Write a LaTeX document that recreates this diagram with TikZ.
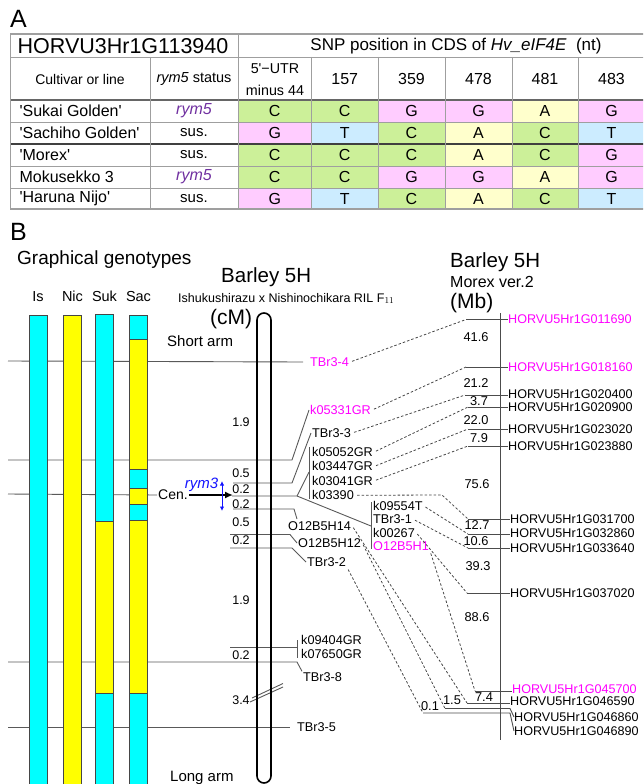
\documentclass[tikz,border=0pt]{standalone}
\usepackage{fontspec}
\setmainfont{Liberation Sans}
\usepackage{xcolor}
\usepackage{tikz}
\usetikzlibrary{arrows.meta,positioning,calc}

\definecolor{ntC}{RGB}{204,240,153}
\definecolor{ntG}{RGB}{255,204,255}
\definecolor{ntA}{RGB}{255,255,204}
\definecolor{ntT}{RGB}{204,236,255}
\definecolor{gtcyan}{RGB}{0,255,255}
\definecolor{gtyellow}{RGB}{255,255,0}
\definecolor{mag}{RGB}{255,0,255}
\definecolor{rympurple}{RGB}{112,48,160}
\definecolor{rymblue}{RGB}{20,20,255}

\newcommand{\fsz}[1]{\fontsize{#1}{#1}\selectfont}
\newcommand{\squo}{\textquotesingle}

\begin{document}
\begin{tikzpicture}[x=1pt, y=-1pt,
        cell/.style={minimum width=67pt, minimum height=22pt, inner sep=0pt, font=\fsz{16}},
        cC/.style={cell, fill=ntC}, cG/.style={cell, fill=ntG},
        cA/.style={cell, fill=ntA}, cT/.style={cell, fill=ntT},
        wcol/.style={minimum width=73.5pt},
        tline/.style={gray!75, line width=0.8pt},
        gbar/.style={draw=gray!55!black, line width=0.7pt},
        lnk/.style={gray!70!black, line width=0.9pt},
        mtick/.style={black!70, line width=0.9pt},
        dsh/.style={gray!55!black, line width=0.8pt, dash pattern=on 2.5pt off 2pt, shorten <=2pt},
        mk/.style={anchor=west, inner sep=1pt, font=\fsz{12.7}},
        gene/.style={anchor=west, inner sep=0pt, font=\fsz{12.6}},
        cmlbl/.style={inner sep=0pt, font=\fsz{12.5}},
        mblbl/.style={inner sep=0pt, font=\fsz{12.8}},
        ttl/.style={anchor=base west, inner sep=0pt}
    ]
        \useasboundingbox (0,0) rectangle (643,784);
        \clip (0,0) rectangle (643,784);

        %--- Panel A: SNP table ---
        \node[ttl, font=\fsz{25}] (labA) at (10,28) {A};

        \node[cC, wcol] (c11) at (274.75,111) {C};
        \node[cC] (c12) at (344.75,111) {C};
        \node[cG] (c13) at (411.5,111) {G};
        \node[cG] (c14) at (478.5,111) {G};
        \node[cA] (c15) at (545,111) {A};
        \node[cG] (c16) at (611.5,111) {G};

        \node[cG, wcol] (c21) at (274.75,133) {G};
        \node[cT] (c22) at (344.75,133) {T};
        \node[cC] (c23) at (411.5,133) {C};
        \node[cA] (c24) at (478.5,133) {A};
        \node[cC] (c25) at (545,133) {C};
        \node[cT] (c26) at (611.5,133) {T};

        \node[cC, wcol] (c31) at (274.75,155) {C};
        \node[cC] (c32) at (344.75,155) {C};
        \node[cC] (c33) at (411.5,155) {C};
        \node[cA] (c34) at (478.5,155) {A};
        \node[cC] (c35) at (545,155) {C};
        \node[cG] (c36) at (611.5,155) {G};

        \node[cC, wcol] (c41) at (274.75,177) {C};
        \node[cC] (c42) at (344.75,177) {C};
        \node[cG] (c43) at (411.5,177) {G};
        \node[cG] (c44) at (478.5,177) {G};
        \node[cA] (c45) at (545,177) {A};
        \node[cG] (c46) at (611.5,177) {G};

        \node[cG, wcol, minimum height=21pt] (c51) at (274.75,198.5) {G};
        \node[cT, minimum height=21pt] (c52) at (344.75,198.5) {T};
        \node[cC, minimum height=21pt] (c53) at (411.5,198.5) {C};
        \node[cA, minimum height=21pt] (c54) at (478.5,198.5) {A};
        \node[cC, minimum height=21pt] (c55) at (545,198.5) {C};
        \node[cT, minimum height=21pt] (c56) at (611.5,198.5) {T};

        % rules
        \draw[tline, line width=1.5pt] (10,34) -- (645,34);
        \draw[tline] (10,57) -- (645,57);
        \draw[tline, black!60, line width=1.2pt] (10,100) -- (645,100);
        \draw[tline] (10,122) -- (645,122);
        \draw[tline, black!75, line width=1.1pt] (10,144) -- (645,144);
        \draw[tline] (10,166) -- (645,166);
        \draw[tline] (10,188) -- (645,188);
        \draw[tline, line width=1.1pt] (10,209) -- (645,209);
        \draw[tline] (10,34) -- (10,209);
        \draw[tline] (238,34) -- (238,209);
        \draw[tline] (150,57) -- (150,209);
        \draw[tline] (311.5,57) -- (311.5,209);
        \draw[tline] (378,57) -- (378,209);
        \draw[tline] (445,57) -- (445,209);
        \draw[tline] (512,57) -- (512,209);
        \draw[tline] (578,57) -- (578,209);

        % headers
        \node[font=\fsz{21.5}] (hgene) at (123,46) {HORVU3Hr1G113940};
        \node[font=\fsz{17}] (hsnp) at (456,46) {SNP position in CDS of \textit{Hv\_eIF4E}\ \ (nt)};
        \node[font=\fsz{14}] (hcul) at (80,79) {Cultivar or line};
        \node[font=\fsz{14.5}] (hstat) at (194,79) {\textit{rym5}\ status};
        \node[font=\fontsize{14.3}{22}\selectfont, align=center] (hutr) at (275,80) {5\squo−UTR\\minus 44};
        \node[font=\fsz{16}] (h157) at (344.75,79) {157};
        \node[font=\fsz{16}] (h359) at (411.5,79) {359};
        \node[font=\fsz{16}] (h478) at (478.5,79) {478};
        \node[font=\fsz{16}] (h481) at (545,79) {481};
        \node[font=\fsz{16}] (h483) at (611.5,79) {483};

        % lines
        \node[font=\fsz{16}, anchor=west] (n1) at (16,111) {\squo Sukai Golden\squo};
        \node[font=\fsz{16}, anchor=west] (n2) at (16,133) {\squo Sachiho Golden\squo};
        \node[font=\fsz{16}, anchor=west] (n3) at (16,155) {\squo Morex\squo};
        \node[font=\fsz{16}, anchor=west] (n4) at (16,177) {Mokusekko 3};
        \node[font=\fsz{16}, anchor=west] (n5) at (16,198.5) {\squo Haruna Nijo\squo};
        \node[font=\fsz{16}, text=rympurple] (s1) at (194,111) {\textit{rym5}};
        \node[font=\fsz{15}] (s2) at (194,133) {sus.};
        \node[font=\fsz{15}] (s3) at (194,155) {sus.};
        \node[font=\fsz{16}, text=rympurple] (s4) at (194,177) {\textit{rym5}};
        \node[font=\fsz{15}] (s5) at (194,198.5) {sus.};

        %--- Panel B: titles ---
        \node[ttl, font=\fsz{25}] (labB) at (10,240) {B};
        \node[ttl, font=\fsz{19}] (gg) at (17,264) {Graphical genotypes};
        \node[font=\fsz{14.5}, anchor=base, inner sep=0pt] (is) at (38,301) {Is};
        \node[font=\fsz{14.5}, anchor=base, inner sep=0pt] (nic) at (72.5,301) {Nic};
        \node[font=\fsz{14.5}, anchor=base, inner sep=0pt] (suk) at (104.5,301) {Suk};
        \node[font=\fsz{14.5}, anchor=base, inner sep=0pt] (sac) at (138.5,301) {Sac};
        \node[ttl, font=\fsz{20.5}] (b5hl) at (221,282) {Barley 5H};
        \node[ttl, font=\fsz{12.5}] (cross) at (178,302) {Ishukushirazu x Nishinochikara RIL F$_{11}$};
        \node[ttl, font=\fsz{21}] (ucm) at (210,324) {(cM)};
        \node[ttl, font=\fsz{15}] (sarm) at (167,346) {Short arm};
        \node[ttl, font=\fsz{15}] (larm) at (170,781) {Long arm};
        \node[ttl, font=\fsz{20.5}] (b5hr) at (450,267) {Barley 5H};
        \node[ttl, font=\fsz{16}] (morex) at (450,287) {Morex ver.2};
        \node[ttl, font=\fsz{21}] (umb) at (450,308) {(Mb)};

        %--- Linkage map: marker labels ---
        \node[mk, text=mag] (tbr34) at (309,362) {TBr3-4};
        \node[mk, text=mag] (k05331) at (309,410) {k05331GR};
        \node[mk] (tbr33) at (311,433) {TBr3-3};
        \node[mk] (k05052) at (311,452) {k05052GR};
        \node[mk, below=2.7pt of k05052.south west, anchor=north west] (k03447) {k03447GR};
        \node[mk, below=2.7pt of k03447.south west, anchor=north west] (k03041) {k03041GR};
        \node[mk, below=2.7pt of k03041.south west, anchor=north west] (k03390) {k03390};
        \node[mk] (k09554) at (372,506) {k09554T};
        \node[mk, below=1.7pt of k09554.south west, anchor=north west] (tbr31) {TBr3-1};
        \node[mk, below=1.7pt of tbr31.south west, anchor=north west] (k00267) {k00267};
        \node[mk, text=mag, below=1.7pt of k00267.south west, anchor=north west] (o12b5h1) {O12B5H1};
        \node[mk] (o12b5h14) at (287,526) {O12B5H14};
        \node[mk] (o12b5h12) at (297,543) {O12B5H12};
        \node[mk] (tbr32) at (306,562) {TBr3-2};
        \node[mk] (k09404) at (300,640) {k09404GR};
        \node[mk] (k07650) at (300,654) {k07650GR};
        \node[mk] (tbr38) at (302,677) {TBr3-8};
        \node[mk] (tbr35) at (296,727) {TBr3-5};
        \node[font=\fsz{14}, anchor=west, inner sep=1pt] (cen) at (157,495) {Cen.};

        %--- Linkage map: lines behind the genotype bars ---
        \draw[lnk] (8,361) -- ([xshift=-6pt]tbr34.west);
        \draw[lnk] (8,460) -- (292,460) -- (k05331.west);
        \draw[lnk] (233,483) -- (292,483) -- (tbr33.west);
        \draw[lnk] (8,494) -- (cen.west);
        \draw[lnk] (232,496) -- (297,496) coordinate (fork) -- (309,472);
        \draw[lnk] (fork) -- (371,526);
        \draw[lnk] (309,447) -- (309,499);
        \draw[lnk] (371,502) -- (371,549);
        \draw[lnk] (233,509) -- (294,509) -- (297,519);
        \draw[lnk] (230,534.5) -- (290,534.5) -- (o12b5h12.west);
        \draw[lnk] (230,548) -- (292,548) -- (tbr32.west);
        \draw[lnk] (230,647) -- (297,647);
        \draw[lnk] (297,640) -- (297,658);
        \draw[lnk] (8,662) -- (297,662) -- (tbr38.north west);
        \draw[lnk] (8,727) -- ([xshift=-6pt]tbr35.west);
        \draw[lnk] (250,702) -- (283,687);
        \draw[lnk] (252,698) -- (283,683.5);

        %--- Graphical genotypes ---
        \draw[gbar, fill=gtcyan] (29,315) rectangle (47.5,790);
        \draw[gbar, fill=gtyellow] (63.5,315) rectangle (81.5,790);
        \draw[gbar, fill=gtcyan] (95.5,314) rectangle (113.5,521);
        \draw[gbar, fill=gtyellow] (95.5,521) rectangle (113.5,693);
        \draw[gbar, fill=gtcyan] (95.5,693) rectangle (113.5,790);
        \draw[gbar, fill=gtcyan] (129.5,315) rectangle (147.5,339);
        \draw[gbar, fill=gtyellow] (129.5,339) rectangle (147.5,469);
        \draw[gbar, fill=gtcyan] (129.5,469) rectangle (147.5,488);
        \draw[gbar, fill=gtyellow] (129.5,488) rectangle (147.5,504);
        \draw[gbar, fill=gtcyan] (129.5,504) rectangle (147.5,520);
        \draw[gbar, fill=gtyellow] (129.5,520) rectangle (147.5,693);
        \draw[gbar, fill=gtcyan] (129.5,693) rectangle (147.5,790);

        %--- Chromosome 5H and rym3 ---
        \node[draw, line width=1.6pt, rounded corners=7pt, minimum width=14pt,
              minimum height=470pt, inner sep=0pt] (chr5h) at (264,548) {};
        \draw[-{Latex[length=8pt,width=7pt]}, line width=1.8pt] (cen.east) -- (233,495);
        \node[font=\itshape\fsz{15}, text=rymblue, anchor=east, inner sep=0pt] (rym3) at (218.5,485) {rym3};
        \draw[{Latex[length=4.5pt,width=4.5pt]}-{Latex[length=4.5pt,width=4.5pt]}, rymblue, line width=1pt]
            (222,481) -- (222,511);

        % cM intervals
        \node[cmlbl] (d1) at (241,422) {1.9};
        \node[cmlbl] (d2) at (241,473) {0.5};
        \node[cmlbl] (d3) at (241,489) {0.2};
        \node[cmlbl] (d4) at (241,504) {0.2};
        \node[cmlbl] (d5) at (241,522) {0.5};
        \node[cmlbl] (d6) at (241,540) {0.2};
        \node[cmlbl] (d7) at (241,600) {1.9};
        \node[cmlbl] (d8) at (241,655) {0.2};
        \node[cmlbl] (d9) at (241,700) {3.4};

        %--- Physical map (Morex) ---
        \draw[mtick] (500,313) -- (500,740);
        \node[gene, text=mag] (g011690) at (508,319.5) {HORVU5Hr1G011690};
        \node[gene, text=mag] (g018160) at (508,367) {HORVU5Hr1G018160};
        \node[gene] (g020400) at (508,394) {HORVU5Hr1G020400};
        \node[gene] (g020900) at (508,407) {HORVU5Hr1G020900};
        \node[gene] (g023020) at (508,429) {HORVU5Hr1G023020};
        \node[gene] (g023880) at (508,446) {HORVU5Hr1G023880};
        \node[gene] (g031700) at (510,519) {HORVU5Hr1G031700};
        \node[gene] (g032860) at (510,533) {HORVU5Hr1G032860};
        \node[gene] (g033640) at (510,548) {HORVU5Hr1G033640};
        \node[gene] (g037020) at (510,593) {HORVU5Hr1G037020};
        \node[gene, text=mag] (g045700) at (512,689) {HORVU5Hr1G045700};
        \node[gene] (g046590) at (510,701) {HORVU5Hr1G046590};
        \node[gene] (g046860) at (514,717) {HORVU5Hr1G046860};
        \node[gene] (g046890) at (514,731) {HORVU5Hr1G046890};

        \coordinate (t011690) at (466,319.5);
        \coordinate (t018160) at (466,367);
        \coordinate (t020400) at (465,395);
        \coordinate (t020900) at (468,407);
        \coordinate (t023020) at (468,429);
        \coordinate (t023880) at (468,446);
        \coordinate (t031700) at (468,519);
        \coordinate (t032860) at (468,534);
        \coordinate (t033640) at (468,548);
        \coordinate (t037020) at (467,593);
        \coordinate (t045700) at (475,691);
        \coordinate (t046590) at (467,703);
        \coordinate (t046860) at (445,708.5);
        \coordinate (t046890) at (423,713);

        \draw[mtick] (t011690) -- (g011690.west);
        \draw[mtick] (t018160) -- (g018160.west);
        \draw[mtick] (t020400) -- (508,395);
        \draw[mtick] (t020900) -- (g020900.west);
        \draw[mtick] (t023020) -- (g023020.west);
        \draw[mtick] (t023880) -- (g023880.west);
        \draw[mtick] (t031700) -- (g031700.west);
        \draw[mtick] (t032860) -- (510,534);
        \draw[mtick] (t033640) -- (g033640.west);
        \draw[mtick] (t037020) -- (g037020.west);
        \draw[mtick] (t045700) -- (512,691);
        \draw[mtick] (t046590) -- (510,703);
        \draw[mtick] (t046860) -- (510,708.5) -- (g046860.west);
        \draw[mtick] (t046890) -- (510,713) -- (g046890.west);

        % Mb intervals
        \node[mblbl] (p1) at (476,337) {41.6};
        \node[mblbl] (p2) at (476,383) {21.2};
        \node[mblbl] (p3) at (479,401) {3.7};
        \node[mblbl] (p4) at (476,420) {22.0};
        \node[mblbl] (p5) at (479,438) {7.9};
        \node[mblbl] (p6) at (477,484) {75.6};
        \node[mblbl] (p7) at (477,525.5) {12.7};
        \node[mblbl] (p8) at (476,541) {10.6};
        \node[mblbl] (p9) at (478,566) {39.3};
        \node[mblbl] (p10) at (477,617) {88.6};
        \node[mblbl] (p11) at (484,697) {7.4};
        \node[mblbl] (p12) at (452,700) {1.5};
        \node[mblbl] (p13) at (430,706) {0.1};

        %--- Dashed links: genetic to physical ---
        \draw[dsh] (tbr34.east) -- (t011690);
        \draw[dsh] (k05331.east) -- (t018160);
        \draw[dsh] (tbr33.east) -- (t020400);
        \draw[dsh] (k05052.east) -- (t020900);
        \draw[dsh] (k03447.east) -- (t023020);
        \draw[dsh] (k03041.east) -- (t023880);
        \draw[dsh] (k03390.east) -- (442,495) -- (t031700);
        \draw[dsh] (k09554.east) -- (t032860);
        \draw[dsh] (tbr31.east) -- (t033640);
        \draw[dsh] (k00267.east) -- (t037020);
        \draw[dsh] (o12b5h1.south east) -- (t045700);
        \draw[dsh] (o12b5h14.east) -- (t046590);
        \draw[dsh] (o12b5h12.east) -- (t046860);
        \draw[dsh] (tbr32.south east) -- (t046890);
\end{tikzpicture}
\end{document}
